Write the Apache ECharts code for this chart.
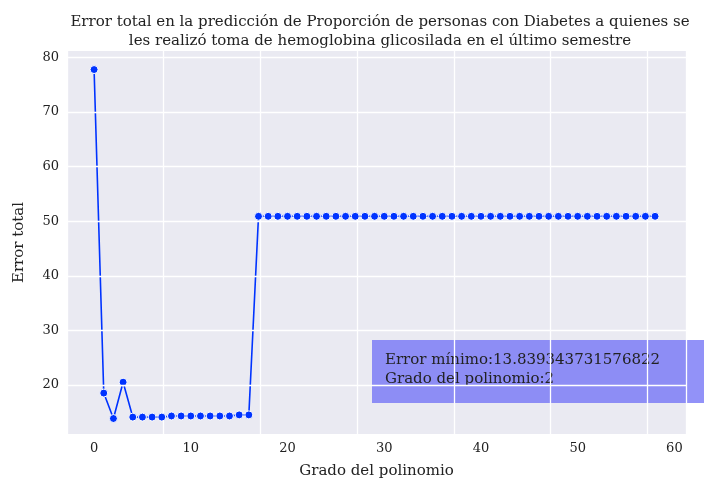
<!DOCTYPE html>
<html><head><meta charset="utf-8">
<script src="https://cdn.jsdelivr.net/npm/echarts@6/dist/echarts.min.js"></script>
<style>body{margin:0;background:#fff}#c{width:728px;height:496px}</style>
</head><body><div id="c"></div>
<script>
// grado del polinomio vs error total
const grados = [];
for (let i = 0; i <= 58; i++) grados.push(i);
const errores = [77.8, 18.5, 13.84, 20.5, 14.1, 14.1, 14.1, 14.1, 14.3, 14.3, 14.3, 14.3, 14.3, 14.3, 14.3, 14.5, 14.5,
  50.9, 50.9, 50.9, 50.9, 50.9, 50.9, 50.9, 50.9, 50.9, 50.9, 50.9, 50.9, 50.9, 50.9, 50.9, 50.9, 50.9, 50.9, 50.9, 50.9,
  50.9, 50.9, 50.9, 50.9, 50.9, 50.9, 50.9, 50.9, 50.9, 50.9, 50.9, 50.9, 50.9, 50.9, 50.9, 50.9, 50.9, 50.9, 50.9, 50.9,
  50.9, 50.9];
const xTicks = [0, 10, 20, 30, 40, 50, 60];
const yTicks = [20, 30, 40, 50, 60, 70, 80];

const font = 'DejaVu Serif';
const chart = echarts.init(document.getElementById('c'));
chart.setOption({
  textStyle: { fontFamily: font },
  title: {
    text: 'Error total en la predicción de Proporción de personas con Diabetes a quienes se\nles realizó toma de hemoglobina glicosilada en el último semestre',
    left: 375, top: 8, textAlign: 'center',
    textStyle: { fontFamily: font, fontWeight: 'normal', fontSize: 15, color: '#222', lineHeight: 19 }
  },
  grid: { left: 67, right: 42, top: 51, bottom: 62, backgroundColor: '#eaeaf2', show: true, borderWidth: 0 },
  xAxis: {
    type: 'value', min: -2.8, max: 61.2,
    name: 'Grado del polinomio', nameLocation: 'middle', nameGap: 30,
    nameTextStyle: { fontFamily: font, fontSize: 15, color: '#222' },
    axisLine: { show: false }, axisTick: { show: false },
    axisLabel: { fontFamily: font, fontSize: 13, color: '#222',
      customValues: xTicks, formatter: v => xTicks.includes(v) ? v : '' },
    splitLine: { lineStyle: { color: '#fff', width: 1.3 } },
    interval: 10
  },
  yAxis: {
    type: 'value', min: 11, max: 81.2,
    name: 'Error total', nameLocation: 'middle', nameGap: 40,
    nameTextStyle: { fontFamily: font, fontSize: 15, color: '#222' },
    axisLine: { show: false }, axisTick: { show: false },
    axisLabel: { fontFamily: font, fontSize: 13, color: '#222',
      customValues: yTicks },
    splitLine: { show: false }
  },
  series: [{
    type: 'line', data: grados.map((g, i) => [g, errores[i]]),
    symbol: 'circle', symbolSize: 8,
    lineStyle: { color: '#0033ff', width: 1.6 },
    itemStyle: { color: '#0033ff', borderColor: '#fff', borderWidth: 1 },
    markLine: { silent: true, symbol: 'none', label: { show: false },
      lineStyle: { color: '#fff', width: 1.3, type: 'solid' },
      data: yTicks.map(v => ({ yAxis: v })) },
    z: 3
  }],
  graphic: [{
    type: 'group', left: 372, top: 340,
    children: [
      { type: 'rect', shape: { width: 332, height: 63 }, style: { fill: 'rgba(110,110,245,0.75)' } },
      { type: 'text', left: 13, top: 11, style: { text: 'Error mínimo:13.839343731576822\nGrado del polinomio:2',
        font: '15px "DejaVu Serif"', fill: '#222', lineHeight: 19 } }
    ]
  }]
});
</script></body></html>
